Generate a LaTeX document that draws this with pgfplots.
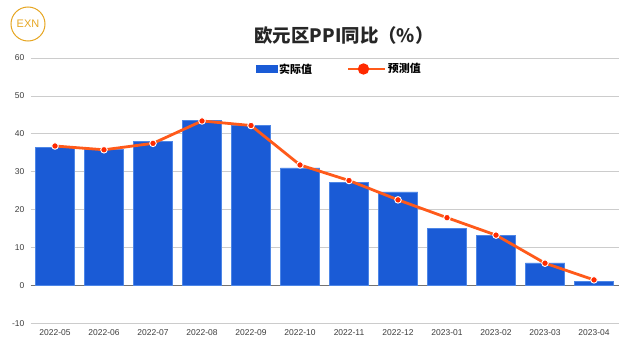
\documentclass[border=0pt]{standalone}
\usepackage{pgfplots}
\pgfplotsset{compat=1.18}
\usepackage{fontspec}
\setmainfont{Liberation Sans}
\newfontfamily\cjk{Noto Sans CJK SC}
\definecolor{barblue}{HTML}{1A5BD6}
\definecolor{baredge}{HTML}{4D86E6}
\definecolor{lineorange}{HTML}{FF5A1A}
\definecolor{markred}{HTML}{FF2A00}
\definecolor{gold}{HTML}{E6A622}
\definecolor{ticktext}{HTML}{3C3C3C}
\begin{document}
\begin{tikzpicture}[x=1bp,y=1bp]
\path[use as bounding box] (0,0) rectangle (640,352);
% logo
\draw[gold, line width=1bp] (28,328) circle (17);
\node[gold, font=\fontsize{11}{11}\selectfont] at (28,328) {EXN};
\node[font=\cjk\bfseries\fontsize{18.5}{20}\selectfont, text=black!85] at (344,316.3) {欧元区PPI同比（\%）};
\begin{axis}[at={(30.5bp,28.5bp)}, anchor=south west, width=588bp, height=265.5bp, scale only axis,
  xmin=-0.5, xmax=11.5, ymin=-10, ymax=60, ytick={-10,0,...,60},
  axis line style={draw=none}, major tick length=0pt,
  ymajorgrids, grid style={gray!40, line width=0.8bp},
  extra y ticks={0}, extra y tick labels={}, extra y tick style={grid style={black!55, line width=0.9bp}},
  xtick=data, xticklabels={2022-05,2022-06,2022-07,2022-08,2022-09,2022-10,2022-11,2022-12,2023-01,2023-02,2023-03,2023-04},
  tick label style={font=\fontsize{8.5}{10}\selectfont, text=ticktext},
  /pgf/number format/assume math mode=true,
  yticklabel style={anchor=east, inner sep=0pt, xshift=-6bp},
  xticklabel style={anchor=north, inner sep=0pt, yshift=-6bp},
  legend style={at={(0.525,0.9586)}, anchor=center, draw=none, fill=none, legend columns=2,
    font=\cjk\bfseries\fontsize{11}{12}\selectfont,
    /tikz/every even column/.append style={column sep=33bp}, nodes={inner sep=1.5bp}},
]
\addplot[ybar, bar width=39.5bp, fill=barblue, draw=baredge, line width=0.6bp,
  legend image code/.code={\fill[barblue] (0bp,-3.8bp) rectangle (21bp,3.8bp);}]
  coordinates {(0,36.5) (1,36.0) (2,38.1) (3,43.5) (4,42.2) (5,31.0) (6,27.2) (7,24.7) (8,15.1) (9,13.2) (10,6.0) (11,1.1)};
\addplot[lineorange, line width=2.8bp, mark=*, mark size=3.3bp,
  mark options={fill=markred, draw=white, line width=0.9bp},
  legend image code/.code={\path (0bp,0bp) -- (37bp,0bp); \draw[lineorange, line width=1.5bp] (0bp,0bp) -- (31bp,0bp); \fill[markred] (15.5bp,0bp) circle (4.2bp);}]
  coordinates {(0,36.8) (1,35.8) (2,37.5) (3,43.4) (4,42.2) (5,31.8) (6,27.7) (7,22.6) (8,17.9) (9,13.3) (10,5.9) (11,1.5)};
\legend{实际值,预测值}
\end{axis}
\end{tikzpicture}
\end{document}
